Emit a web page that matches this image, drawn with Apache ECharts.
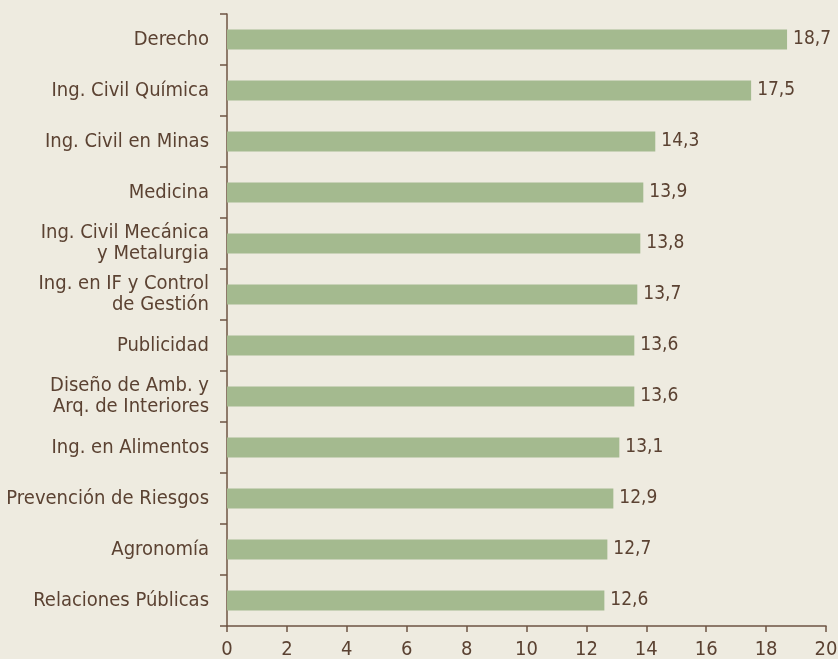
<!DOCTYPE html>
<html>
<head>
<meta charset="utf-8">
<script src="https://cdn.jsdelivr.net/npm/echarts@6/dist/echarts.min.js"></script>
<style>
html, body { margin: 0; padding: 0; background: #eeebe0; }
#chart { width: 838px; height: 659px; }
</style>
</head>
<body>
<div id="chart"></div>
<script>
var carreras = [
    'Derecho',
    'Ing. Civil Química',
    'Ing. Civil en Minas',
    'Medicina',
    'Ing. Civil Mecánica\ny Metalurgia',
    'Ing. en IF y Control\nde Gestión',
    'Publicidad',
    'Diseño de Amb. y\nArq. de Interiores',
    'Ing. en Alimentos',
    'Prevención de Riesgos',
    'Agronomía',
    'Relaciones Públicas'
]
var valores = [18.7, 17.5, 14.3, 13.9, 13.8, 13.7, 13.6, 13.6, 13.1, 12.9, 12.7, 12.6]
var ejeX = { min: 0, max: 20, interval: 2 }

var fuente = "'Liberation Sans Narrow', 'DejaVu Sans Condensed', sans-serif"
var cafe = '#5b4232'
var linea = '#6e5443'

var myChart = echarts.init(document.getElementById('chart'))
var option = {
    backgroundColor: '#eeebe0',
    animation: false,
    grid: {
        top: 14,
        left: 227,
        right: 12,
        bottom: 33,
        containLabel: false,
        outerBoundsMode: 'none'
    },
    xAxis: {
        type: 'value',
        min: ejeX.min,
        max: ejeX.max,
        interval: ejeX.interval,
        splitLine: { show: false },
        axisLine: {
            show: true,
            lineStyle: { color: linea, width: 1.5 }
        },
        axisTick: {
            show: true,
            length: 6,
            lineStyle: { color: linea, width: 1.5 }
        },
        axisLabel: {
            color: cafe,
            fontFamily: fuente,
            fontSize: 20,
            margin: 14
        }
    },
    yAxis: {
        type: 'category',
        inverse: true,
        data: carreras,
        axisLine: {
            show: true,
            lineStyle: { color: linea, width: 1.5 }
        },
        axisTick: {
            show: true,
            length: 7,
            lineStyle: { color: linea, width: 1.5 }
        },
        axisLabel: {
            color: cafe,
            fontFamily: fuente,
            fontSize: 20,
            lineHeight: 21,
            margin: 18,
            align: 'right'
        }
    },
    series: [
        {
            type: 'bar',
            barWidth: 20,
            itemStyle: { color: '#a4ba8f' },
            label: {
                show: true,
                position: 'right',
                distance: 6,
                color: cafe,
                fontFamily: fuente,
                fontSize: 19,
                formatter: function (p) {
                    return String(p.value).replace('.', ',')
                }
            },
            data: valores
        }
    ]
}
myChart.setOption(option)
</script>
</body>
</html>
